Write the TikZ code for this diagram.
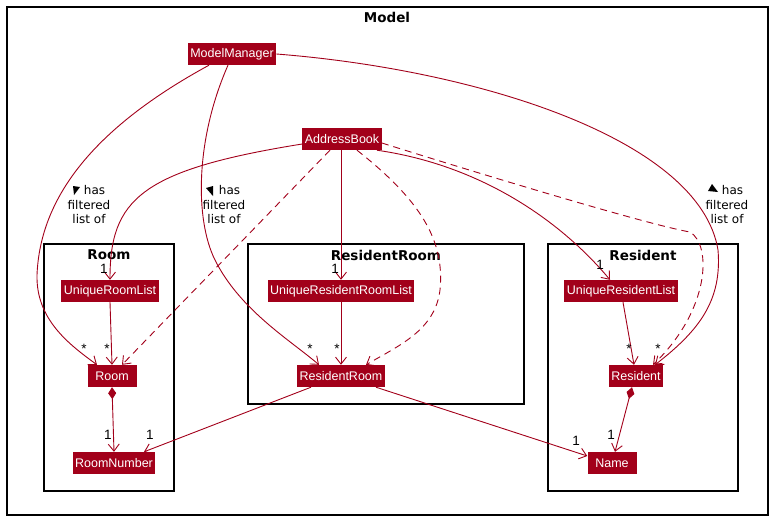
\documentclass[tikz,border=0pt]{standalone}
\usepackage{fontspec}
\setmainfont{Liberation Sans}
\newfontfamily\lblfont{DejaVu Sans}
\usepackage{tikz}
\usetikzlibrary{positioning,arrows.meta}
\definecolor{umlred}{HTML}{A2001A}

\begin{document}
\begin{tikzpicture}[x=1pt,y=-1pt,
  cls/.style={fill=umlred,text=white,font=\fontsize{12.5}{14}\selectfont,
    inner xsep=2.5pt,inner ysep=0pt,minimum height=22pt,minimum width=49pt},
  pkg/.style={draw=black,line width=1.3pt},
  ptitle/.style={font=\lblfont\bfseries\fontsize{13.5}{15}\selectfont,inner sep=0pt},
  assoc/.style={draw=umlred,line width=0.9pt,-{Straight Barb[length=7pt,width=11pt]}},
  dep/.style={assoc,dash pattern=on 7pt off 5pt},
  comp/.style={draw=umlred,line width=0.9pt,
    {Diamond[length=12pt,width=8pt,fill=umlred]}-{Straight Barb[length=7pt,width=11pt]}},
  mult/.style={font=\fontsize{13.5}{13.5}\selectfont,inner sep=0pt},
  lbl/.style={font=\lblfont\fontsize{12}{14.5}\selectfont,align=center,inner sep=0pt}]
\useasboundingbox (0,0) rectangle (773,520);
% frames
\draw[pkg] (7,7) rectangle (768,515);
\node[ptitle] (tmodel) at (387,17) {Model};
\draw[pkg] (44,244) rectangle (174,491);
\node[ptitle] (troom) at (109,255) {Room};
\draw[pkg] (248,244) rectangle (524,404);
\node[ptitle] (trr) at (386,255) {ResidentRoom};
\draw[pkg] (548,244) rectangle (738,491);
\node[ptitle] (tres) at (643,255) {Resident};
% classes
\node[cls] (mm) at (232,54) {ModelManager};
\node[cls] (ab) at (342,139) {AddressBook};
\node[cls] (url) at (110,291) {UniqueRoomList};
\node[cls] (room) at (112,376) {Room};
\node[cls] (rnum) at (114,463) {RoomNumber};
\node[cls] (urrl) at (341,291) {UniqueResidentRoomList};
\node[cls] (rr) at (341,376) {ResidentRoom};
\node[cls] (uresl) at (621,291) {UniqueResidentList};
\node[cls] (res) at (636,376) {Resident};
\node[cls] (name) at (612,463) {Name};
% ModelManager links
\draw[assoc] ([xshift=-23pt]mm.south) .. controls (90,130) and (40,200) .. (37,275)
  .. controls (36,320) and (70,345) .. ([xshift=-15pt]room.north);
\draw[assoc] ([xshift=-4pt]mm.south) .. controls (195,140) and (195,220) .. (215,260)
  .. controls (240,310) and (290,340) .. ([xshift=-22pt]rr.north);
\draw[assoc] (mm.east) .. controls (480,70) and (700,140) .. (718,250)
  .. controls (722,300) and (700,330) .. ([xshift=19pt]res.north);
\node[lbl] (has1) at (89,205) {\hspace*{11pt}has\\filtered\\list of};
\node[lbl] (has2) at (224,205) {\hspace*{11pt}has\\filtered\\list of};
\node[lbl] (has3) at (727,205) {\hspace*{11pt}has\\filtered\\list of};
\fill (73,186) -- (80,187) -- (74,195) -- cycle;
\fill (213,186) -- (213,196) -- (206,188) -- cycle;
\fill (712,184) -- (718,192) -- (708,191) -- cycle;
% AddressBook links
\draw[assoc] ([yshift=-5pt]ab.west) .. controls (140,170) and (110,200) .. (url.north);
\draw[assoc] (ab.south -| urrl.north) -- (urrl.north);
\draw[assoc] ([xshift=-5pt]ab.south east) .. controls (480,165) and (560,220) .. ([xshift=-11pt]uresl.north);
\draw[dep] ([xshift=-12pt]ab.south) -- ([xshift=10pt]room.north);
\draw[dep] ([xshift=15pt]ab.south) .. controls (420,200) and (445,240) .. (440,290)
  .. controls (435,330) and (400,345) .. ([xshift=25pt]rr.north);
\draw[dep] ([yshift=-4pt]ab.east) .. controls (500,180) and (650,225) .. (690,232)
  .. controls (712,245) and (710,310) .. ([xshift=17pt]res.north);
% inside packages
\draw[assoc] (url.south) -- (room.north);
\draw[assoc] (urrl.south) -- (rr.north);
\draw[assoc] ([xshift=2pt]uresl.south) -- ([xshift=-2pt]res.north);
\draw[comp] (room.south) -- (rnum.north);
\draw[comp] ([xshift=-4pt]res.south) -- ([xshift=3pt]name.north);
\draw[assoc] ([xshift=-30pt]rr.south) -- ([xshift=30pt]rnum.north);
\draw[assoc] ([xshift=35pt]rr.south) -- ([yshift=7pt]name.west);
% multiplicities
\node[mult] (m1) at (104,269) {1};
\node[mult] (m2) at (335,269) {1};
\node[mult] (m3) at (600,265) {1};
\node[mult] (m4) at (84,349) {*};
\node[mult] (m5) at (107,349) {*};
\node[mult] (m6) at (310,349) {*};
\node[mult] (m7) at (337,349) {*};
\node[mult] (m8) at (629,349) {*};
\node[mult] (m9) at (658,349) {*};
\node[mult] (m10) at (108,435) {1};
\node[mult] (m11) at (150,435) {1};
\node[mult] (m12) at (611,435) {1};
\node[mult] (m13) at (576,441) {1};
\end{tikzpicture}
\end{document}
